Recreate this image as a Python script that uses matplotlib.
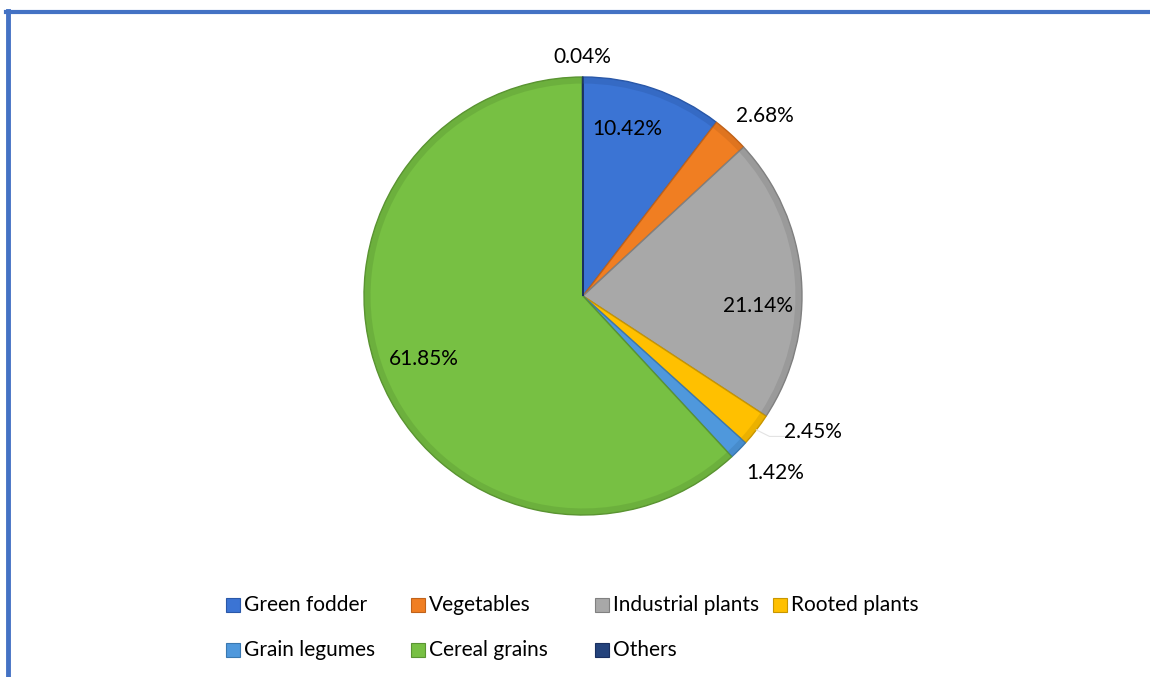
import matplotlib
matplotlib.use("Agg")
import matplotlib.pyplot as plt
from matplotlib.patches import Rectangle, Wedge
import numpy as np

categories = ["Green fodder", "Vegetables", "Industrial plants", "Rooted plants",
              "Grain legumes", "Cereal grains", "Others"]
values = [10.42, 2.68, 21.14, 2.45, 1.42, 61.85, 0.04]
colors = ["#3b74d4", "#f07e22", "#a8a8a8", "#ffc000", "#4f98dc", "#77c043", "#24437c"]
edges = ["#2a58a8", "#c0621a", "#808080", "#c89600", "#3a78b0", "#5a9432", "#1a3060"]

plt.rcParams['font.family'] = ['Lato', 'DejaVu Sans']
FS = 15

W, H = 1150, 677
fig = plt.figure(figsize=(W / 100, H / 100), dpi=100)
cx, cy, R = 583, 296, 219
ax = fig.add_axes([0, 0, 1, 1])

wedges, _ = ax.pie(values, colors=colors, startangle=90, counterclock=False,
                   radius=1, center=(0, 0), frame=True,
                   wedgeprops=dict(linewidth=1.0))
for w, ec in zip(wedges, edges):
    w.set_edgecolor(ec)
    # subtle bevel rim
    rim = Wedge(w.center, w.r, w.theta1, w.theta2, width=0.03,
                facecolor=ec, alpha=0.35, lw=0)
    ax.add_patch(rim)
ax.axis("off")
ax.set_xlim(-cx / R, (W - cx) / R)
ax.set_ylim(-(H - cy) / R, cy / R)

# label placement: (radial distance, angular offset in degrees, clockwise)
label_place = [(0.79, -4), (1.17, 3), (0.80, 8), (1.22, -7), (1.19, -2), (0.78, 0), (1.09, 0)]
cum = np.cumsum([0] + values)
for i, v in enumerate(values):
    mid = (cum[i] + v / 2) / 100 * 360
    r, off = label_place[i]
    a = np.deg2rad(mid + off)
    ax.text(r * np.sin(a), r * np.cos(a), f"{v:.2f}%", ha="center", va="center",
            fontsize=FS, color="#000000")

# faint leader line for Rooted plants
i = 3
mid = np.deg2rad((cum[i] + values[i] / 2) / 100 * 360)
x0, y0 = 1.0 * np.sin(mid), 1.0 * np.cos(mid)
ax.plot([x0, x0 + 0.06, x0 + 0.13], [y0, y0 - 0.03, y0 - 0.03], color="#e3e3e3", lw=0.8)

# frame lines (top and left)
fig.add_artist(plt.Line2D([5.5 / W, 1], [1 - 12 / H, 1 - 12 / H], color="#4472c4", lw=3,
                          transform=fig.transFigure))
fig.add_artist(plt.Line2D([7.5 / W, 7.5 / W], [0, 1 - 11 / H], color="#4472c4", lw=3.5,
                          transform=fig.transFigure))

# legend
col_x = [226, 411, 595, 773]
row_y = [605, 650]
for k, (lab, c, ec) in enumerate(zip(categories, colors, edges)):
    row, col = divmod(k, 4)
    x, y = col_x[col], row_y[row]
    fig.add_artist(Rectangle((x / W, (H - y - 7) / H), 14 / W, 14 / H, facecolor=c,
                             edgecolor=ec, lw=0.8, transform=fig.transFigure))
    fig.text((x + 18) / W, (H - y) / H, lab, ha="left", va="center", fontsize=FS,
             color="#000000")

fig.savefig("out.png", dpi=100)
